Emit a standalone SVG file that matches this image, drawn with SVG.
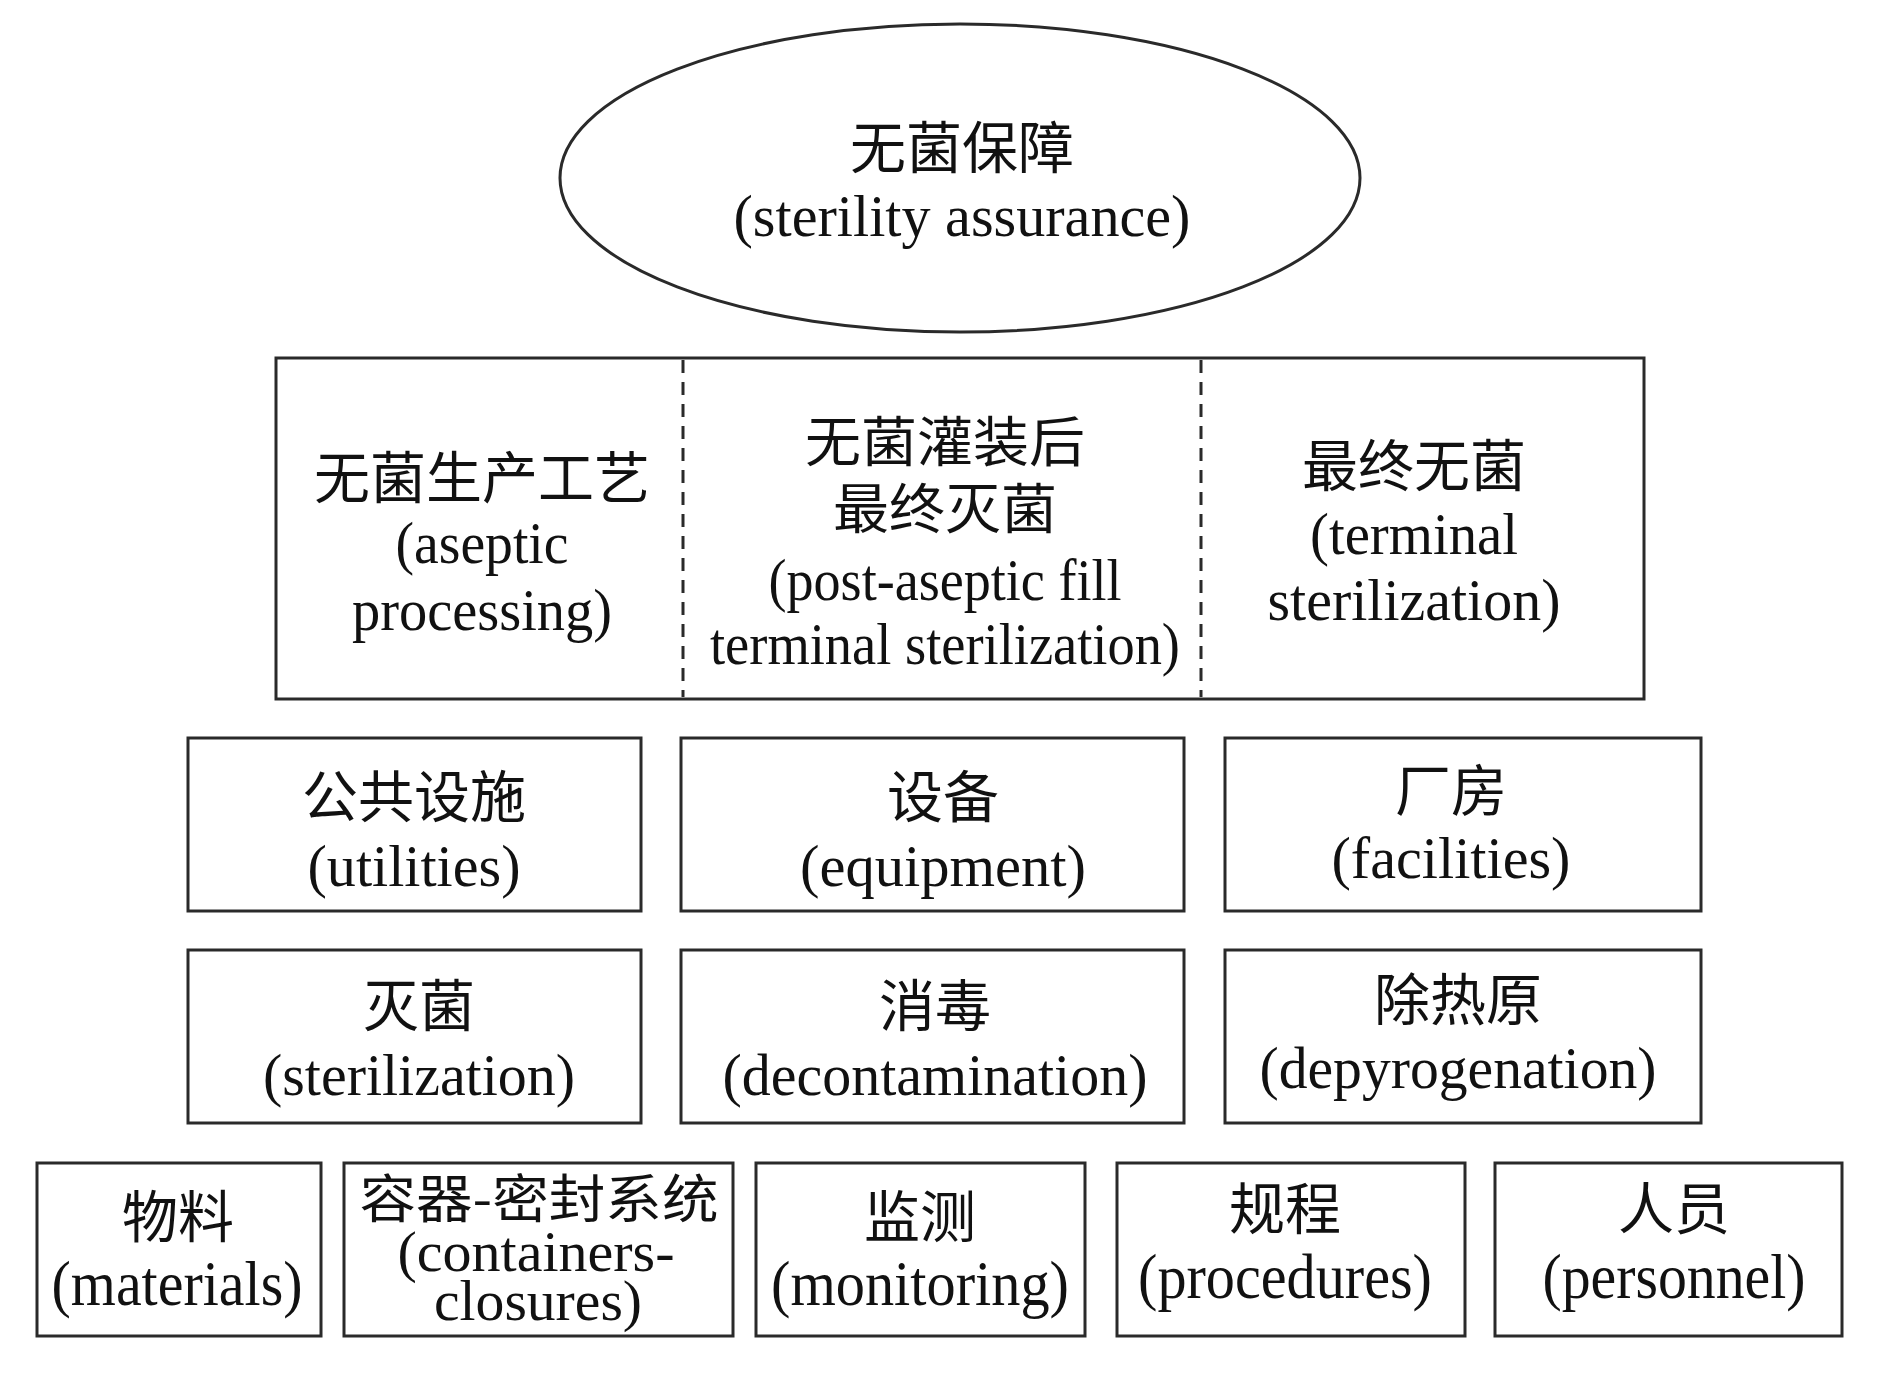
<svg xmlns="http://www.w3.org/2000/svg" width="1890" height="1379" viewBox="0 0 1890 1379">
<style>
.bx{fill:#fff;stroke:#2a2a2a;stroke-width:3}
.dash{stroke:#2a2a2a;stroke-width:3;stroke-dasharray:13 9;fill:none}
.zh{font-family:"Noto Sans CJK SC","Liberation Serif",serif;font-size:56px;fill:#111;text-anchor:middle}
.en{font-family:"Liberation Serif","Times New Roman",serif;font-size:60px;fill:#111;text-anchor:middle}
.en4{font-family:"Liberation Serif","Times New Roman",serif;font-size:64px;fill:#111;text-anchor:middle}
.en4s{font-family:"Liberation Serif","Times New Roman",serif;font-size:56px;fill:#111;text-anchor:middle}
</style>
<rect width="1890" height="1379" fill="#fff"/>

<g id="sterility-assurance">
<ellipse class="bx" cx="960" cy="178" rx="400" ry="154"/>
<text class="zh" x="962" y="168">无菌保障</text>
<text class="en" x="962" y="236" textLength="457" lengthAdjust="spacingAndGlyphs">(sterility assurance)</text>
</g>

<g id="process-box">
<rect class="bx" x="276" y="358" width="1368" height="341"/>
</g>
<g id="connectors">
<line class="dash" x1="683" y1="360" x2="683" y2="697"/>
<line class="dash" x1="1201" y1="360" x2="1201" y2="697"/>
</g>
<g id="aseptic-processing">
<text class="zh" x="482" y="498">无菌生产工艺</text>
<text class="en" x="482" y="563" textLength="173" lengthAdjust="spacingAndGlyphs">(aseptic</text>
<text class="en" x="482" y="630" textLength="260" lengthAdjust="spacingAndGlyphs">processing)</text>
</g>
<g id="post-aseptic">
<text class="zh" x="945" y="462" style="font-size:54px" textLength="280" lengthAdjust="spacingAndGlyphs">无菌灌装后</text>
<text class="zh" x="945" y="529" style="font-size:54px" textLength="224" lengthAdjust="spacingAndGlyphs">最终灭菌</text>
<text class="en" x="945" y="600" textLength="353" lengthAdjust="spacingAndGlyphs">(post-aseptic fill</text>
<text class="en" x="945" y="664" textLength="470" lengthAdjust="spacingAndGlyphs">terminal sterilization)</text>
</g>
<g id="terminal-sterilization">
<text class="zh" x="1414" y="486">最终无菌</text>
<text class="en" x="1414" y="554" textLength="208" lengthAdjust="spacingAndGlyphs">(terminal</text>
<text class="en" x="1414" y="620" textLength="293" lengthAdjust="spacingAndGlyphs">sterilization)</text>
</g>

<g id="utilities">
<rect class="bx" x="188" y="738" width="453" height="173"/>
<text class="zh" x="414" y="817">公共设施</text>
<text class="en" x="414" y="886" textLength="213" lengthAdjust="spacingAndGlyphs">(utilities)</text>
</g>
<g id="equipment">
<rect class="bx" x="681" y="738" width="503" height="173"/>
<text class="zh" x="943" y="817">设备</text>
<text class="en" x="943" y="886" textLength="286" lengthAdjust="spacingAndGlyphs">(equipment)</text>
</g>
<g id="facilities">
<rect class="bx" x="1225" y="738" width="476" height="173"/>
<text class="zh" x="1451" y="811">厂房</text>
<text class="en" x="1451" y="878" textLength="239" lengthAdjust="spacingAndGlyphs">(facilities)</text>
</g>

<g id="sterilization">
<rect class="bx" x="188" y="950" width="453" height="173"/>
<text class="zh" x="419" y="1026">灭菌</text>
<text class="en" x="419" y="1095" textLength="312" lengthAdjust="spacingAndGlyphs">(sterilization)</text>
</g>
<g id="decontamination">
<rect class="bx" x="681" y="950" width="503" height="173"/>
<text class="zh" x="935" y="1026">消毒</text>
<text class="en" x="935" y="1095" textLength="425" lengthAdjust="spacingAndGlyphs">(decontamination)</text>
</g>
<g id="depyrogenation">
<rect class="bx" x="1225" y="950" width="476" height="173"/>
<text class="zh" x="1458" y="1020">除热原</text>
<text class="en" x="1458" y="1088" textLength="397" lengthAdjust="spacingAndGlyphs">(depyrogenation)</text>
</g>

<g id="materials">
<rect class="bx" x="37" y="1163" width="284" height="173"/>
<text class="zh" x="178" y="1237">物料</text>
<text class="en4" x="177" y="1305" textLength="251" lengthAdjust="spacingAndGlyphs">(materials)</text>
</g>
<g id="containers-closures">
<rect class="bx" x="344" y="1163" width="389" height="173"/>
<text class="zh" x="539" y="1218" style="font-size:52px" textLength="359" lengthAdjust="spacingAndGlyphs">容器-密封系统</text>
<text class="en4s" x="536" y="1271" textLength="277" lengthAdjust="spacingAndGlyphs">(containers-</text>
<text class="en4s" x="538" y="1320" textLength="208" lengthAdjust="spacingAndGlyphs">closures)</text>
</g>
<g id="monitoring">
<rect class="bx" x="756" y="1163" width="329" height="173"/>
<text class="zh" x="920" y="1237">监测</text>
<text class="en4" x="920" y="1305" textLength="298" lengthAdjust="spacingAndGlyphs">(monitoring)</text>
</g>
<g id="procedures">
<rect class="bx" x="1117" y="1163" width="348" height="173"/>
<text class="zh" x="1285" y="1229">规程</text>
<text class="en4" x="1285" y="1298" textLength="294" lengthAdjust="spacingAndGlyphs">(procedures)</text>
</g>
<g id="personnel">
<rect class="bx" x="1495" y="1163" width="347" height="173"/>
<text class="zh" x="1674" y="1229">人员</text>
<text class="en4" x="1674" y="1298" textLength="263" lengthAdjust="spacingAndGlyphs">(personnel)</text>
</g>
</svg>
